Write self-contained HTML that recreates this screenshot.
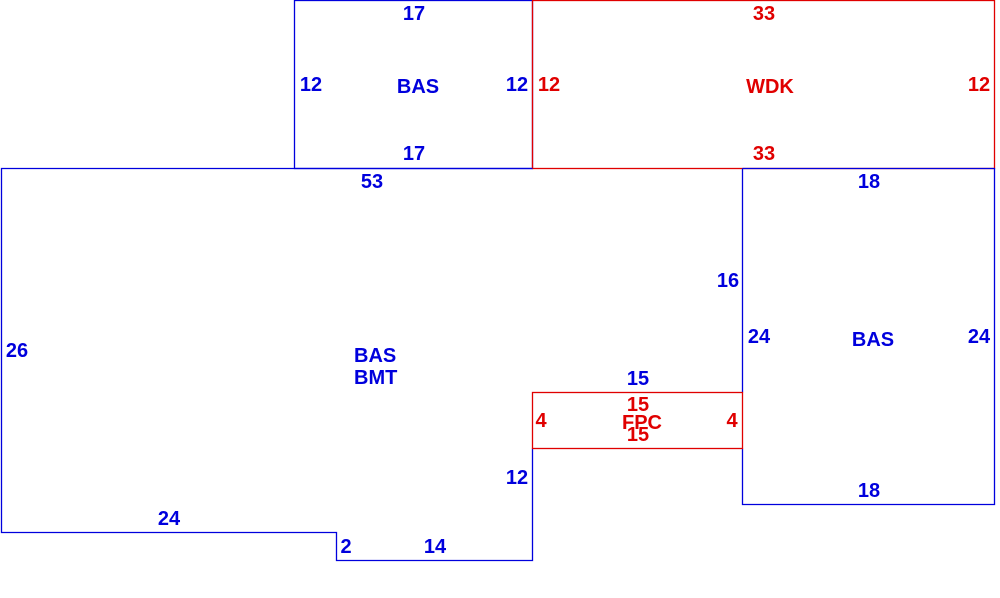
<!DOCTYPE html>
<html><head><style>body{margin:0;background:#fff}svg{display:block}text{font-family:"Liberation Sans",Arial,sans-serif;font-weight:bold;font-size:20px;text-anchor:middle}.b{fill:#0000dd}.r{fill:#e00000}</style></head>
<body>
<svg width="1000" height="598" viewBox="0 0 1000 598">
<g fill="none" stroke-width="1.3">
<rect x="294.5" y="0.5" width="238" height="168" stroke="#0000dd"/>
<rect x="532.5" y="0.5" width="462" height="168" stroke="#e00000"/>
<polyline points="532.5,168.5 1.5,168.5 1.5,532.5 336.5,532.5 336.5,560.5 532.5,560.5 532.5,448.5" stroke="#0000dd"/>
<line x1="742.5" y1="168.5" x2="742.5" y2="392.5" stroke="#0000dd"/>
<polyline points="742.5,448.5 742.5,504.5 994.5,504.5 994.5,168.5 742.5,168.5" stroke="#0000dd"/>
<rect x="532.5" y="392.5" width="210" height="56" stroke="#e00000"/>
</g>
<g class="b">
<text x="414" y="20">17</text>
<text x="311" y="91">12</text>
<text x="418" y="93">BAS</text>
<text x="517" y="91">12</text>
<text x="414" y="160">17</text>
<text x="372" y="188">53</text>
<text x="869" y="188">18</text>
<text x="728" y="287">16</text>
<text x="759" y="343">24</text>
<text x="873" y="346">BAS</text>
<text x="979" y="343">24</text>
<text x="17" y="357">26</text>
<text x="354" y="362" style="text-anchor:start">BAS</text>
<text x="354" y="384" style="text-anchor:start">BMT</text>
<text x="638" y="385">15</text>
<text x="517" y="484">12</text>
<text x="869" y="497">18</text>
<text x="169" y="525">24</text>
<text x="346" y="553">2</text>
<text x="435" y="553">14</text>
</g>
<g class="r">
<text x="764" y="20">33</text>
<text x="549" y="91">12</text>
<text x="770" y="93">WDK</text>
<text x="979" y="91">12</text>
<text x="764" y="160">33</text>
<text x="638" y="411">15</text>
<text x="642" y="429">FPC</text>
<text x="638" y="441">15</text>
<text x="541" y="427">4</text>
<text x="732" y="427">4</text>
</g>
</svg>
</body></html>
